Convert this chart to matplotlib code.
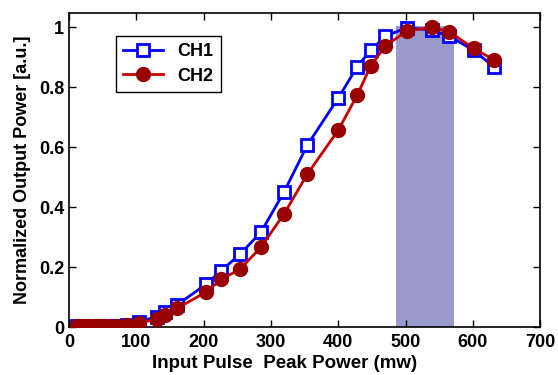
import matplotlib
matplotlib.use('Agg')
import matplotlib.pyplot as plt

plt.rcParams['font.family'] = ['Liberation Sans', 'DejaVu Sans']
plt.rcParams['font.weight'] = 'bold'

# input peak power (mW)
power = [12, 18, 24, 30, 37, 44, 52, 62, 72, 86, 104, 130, 143, 160, 203, 226,
         254, 285, 319, 354, 400, 428, 448, 470, 502, 539, 565, 601, 631]
ch1 = [0.002, 0.002, 0.002, 0.002, 0.002, 0.002, 0.003, 0.003, 0.004, 0.007, 0.018,
       0.034, 0.051, 0.073, 0.142, 0.188, 0.243, 0.316, 0.449, 0.607, 0.764,
       0.868, 0.923, 0.970, 0.999, 0.990, 0.970, 0.923, 0.868]
ch2 = [0.002, 0.002, 0.002, 0.002, 0.002, 0.002, 0.003, 0.003, 0.004, 0.007, 0.014,
       0.026, 0.040, 0.062, 0.116, 0.159, 0.193, 0.266, 0.376, 0.510, 0.657,
       0.773, 0.870, 0.938, 0.987, 1.000, 0.985, 0.929, 0.892]
band = (486, 572)

fig = plt.figure(figsize=(5.58, 3.75), dpi=100)
ax = fig.add_axes([0.124, 0.128, 0.844, 0.837])

ax.fill_between(band, 0, 1.005, color='#9999cc', lw=0, zorder=1)
ax.plot(power, ch1, '-s', color='#0000ff', lw=2, ms=8, mfc='white', mew=2,
        label='CH1', zorder=3)
ax.plot(power, ch2, '-o', color='#cc0000', lw=2, ms=10, mfc='#990000', mec='#990000',
        label='CH2', zorder=4)

ax.set_xlim(0, 700)
ax.set_ylim(0, 1.047)
ax.set_xticks(range(0, 701, 100))
ax.set_yticks([0, 0.2, 0.4, 0.6, 0.8, 1])
ax.set_yticklabels(['0', '0.2', '0.4', '0.6', '0.8', '1'])
ax.tick_params(direction='in', top=True, right=True, labelsize=13, length=5, width=1)
ax.tick_params(axis='x', pad=5)
for s in ax.spines.values():
    s.set_linewidth(1.2)

ax.set_xlabel('Input Pulse  Peak Power (mw)', fontsize=13.5, fontweight='bold')
ax.xaxis.set_label_coords(0.458, -0.088)
ax.set_ylabel('Normalized Output Power [a.u.]', fontsize=13, fontweight='bold', labelpad=6)

leg = ax.legend(loc='upper left', bbox_to_anchor=(0.08, 0.955), fontsize=13,
                fancybox=False, edgecolor='black', framealpha=1,
                handlelength=2.2, borderpad=0.4, labelspacing=0.4)
leg.get_frame().set_linewidth(1)

plt.savefig('out.png', dpi=100)
